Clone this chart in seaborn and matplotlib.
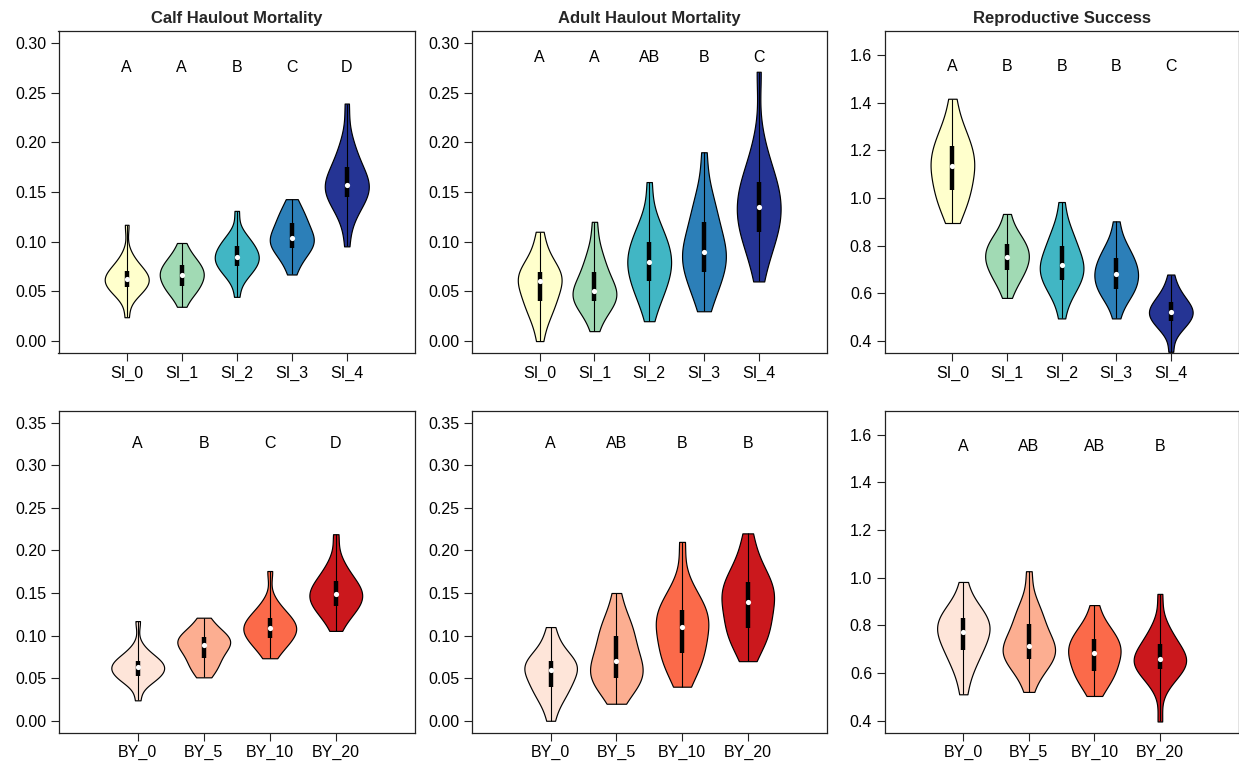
import numpy as np
import pandas as pd
import matplotlib
matplotlib.use("Agg")
import matplotlib.pyplot as plt
from matplotlib.ticker import FormatStrFormatter
import seaborn as sns

# ---------------- data (21 quantiles per group, 0%,5%,...,100%) ----------------
si_labels = ["SI_0", "SI_1", "SI_2", "SI_3", "SI_4"]
by_labels = ["BY_0", "BY_5", "BY_10", "BY_20"]
si_colors = ["#ffffcc", "#a1dab4", "#41b6c4", "#2c7fb8", "#253494"]
by_colors = ["#fee5d9", "#fcae91", "#fb6a4a", "#cb181d"]

calf_si = [
    [0.024, 0.044, 0.047, 0.050, 0.052, 0.0545, 0.056, 0.058, 0.0595, 0.061, 0.0625,
     0.064, 0.0655, 0.067, 0.069, 0.071, 0.0735, 0.0765, 0.081, 0.088, 0.117],
    [0.0345, 0.044, 0.048, 0.051, 0.053, 0.055, 0.058, 0.061, 0.063, 0.065, 0.0666,
     0.068, 0.070, 0.072, 0.0745, 0.077, 0.079, 0.082, 0.085, 0.090, 0.0987],
    [0.0445, 0.062, 0.066, 0.069, 0.072, 0.0753, 0.077, 0.079, 0.081, 0.083, 0.0846,
     0.086, 0.088, 0.090, 0.093, 0.096, 0.098, 0.101, 0.104, 0.109, 0.131],
    [0.067, 0.078, 0.083, 0.087, 0.091, 0.0936, 0.096, 0.098, 0.100, 0.102, 0.104,
     0.106, 0.109, 0.112, 0.1155, 0.119, 0.122, 0.126, 0.130, 0.135, 0.1428],
    [0.0953, 0.122, 0.130, 0.136, 0.141, 0.145, 0.148, 0.151, 0.153, 0.155, 0.157,
     0.159, 0.162, 0.165, 0.170, 0.1756, 0.180, 0.186, 0.194, 0.205, 0.239],
]
adult_si = [
    [0.000, 0.018, 0.025, 0.031, 0.036, 0.040, 0.043, 0.047, 0.052, 0.056, 0.060,
     0.062, 0.064, 0.066, 0.068, 0.070, 0.074, 0.079, 0.085, 0.095, 0.110],
    [0.010, 0.024, 0.030, 0.034, 0.037, 0.040, 0.042, 0.045, 0.047, 0.049, 0.050,
     0.053, 0.056, 0.060, 0.065, 0.070, 0.075, 0.080, 0.087, 0.098, 0.120],
    [0.020, 0.037, 0.044, 0.050, 0.055, 0.060, 0.064, 0.069, 0.073, 0.077, 0.080,
     0.083, 0.087, 0.091, 0.095, 0.100, 0.105, 0.110, 0.117, 0.128, 0.160],
    [0.030, 0.045, 0.052, 0.059, 0.065, 0.070, 0.075, 0.080, 0.084, 0.087, 0.090,
     0.094, 0.099, 0.104, 0.111, 0.120, 0.126, 0.133, 0.142, 0.155, 0.190],
    [0.060, 0.080, 0.092, 0.101, 0.106, 0.110, 0.115, 0.121, 0.127, 0.131, 0.135,
     0.140, 0.145, 0.150, 0.155, 0.160, 0.166, 0.174, 0.185, 0.203, 0.271],
]
repro_si = [
    [0.895, 0.945, 0.970, 0.995, 1.015, 1.035, 1.055, 1.080, 1.100, 1.118, 1.133,
     1.148, 1.163, 1.180, 1.198, 1.219, 1.240, 1.262, 1.290, 1.330, 1.416],
    [0.581, 0.628, 0.648, 0.666, 0.682, 0.696, 0.708, 0.720, 0.732, 0.742, 0.752,
     0.762, 0.772, 0.783, 0.795, 0.807, 0.818, 0.832, 0.850, 0.875, 0.933],
    [0.495, 0.580, 0.605, 0.625, 0.640, 0.654, 0.670, 0.685, 0.697, 0.708, 0.717,
     0.728, 0.740, 0.755, 0.775, 0.798, 0.815, 0.835, 0.860, 0.895, 0.983],
    [0.495, 0.560, 0.583, 0.600, 0.610, 0.619, 0.635, 0.650, 0.664, 0.674, 0.683,
     0.693, 0.705, 0.718, 0.732, 0.747, 0.762, 0.778, 0.798, 0.830, 0.902],
    [0.355, 0.430, 0.450, 0.466, 0.476, 0.484, 0.493, 0.503, 0.511, 0.517, 0.523,
     0.530, 0.537, 0.546, 0.555, 0.565, 0.577, 0.591, 0.608, 0.632, 0.679],
]
calf_by = [
    [0.024, 0.0435, 0.047, 0.049, 0.051, 0.053, 0.055, 0.057, 0.059, 0.061, 0.063,
     0.0645, 0.066, 0.0675, 0.069, 0.0707, 0.073, 0.076, 0.080, 0.087, 0.117],
    [0.051, 0.058, 0.062, 0.066, 0.070, 0.0742, 0.078, 0.081, 0.084, 0.087, 0.089,
     0.091, 0.093, 0.095, 0.097, 0.0988, 0.101, 0.104, 0.108, 0.113, 0.121],
    [0.0734, 0.082, 0.087, 0.091, 0.094, 0.0969, 0.099, 0.102, 0.105, 0.107, 0.109,
     0.111, 0.113, 0.1155, 0.118, 0.1207, 0.124, 0.128, 0.133, 0.141, 0.1758],
    [0.1055, 0.118, 0.124, 0.128, 0.132, 0.135, 0.138, 0.141, 0.144, 0.1465, 0.149,
     0.151, 0.154, 0.157, 0.160, 0.164, 0.168, 0.173, 0.180, 0.190, 0.219],
]
adult_by = [
    [0.000, 0.018, 0.025, 0.031, 0.036, 0.040, 0.043, 0.047, 0.052, 0.056, 0.060,
     0.062, 0.064, 0.066, 0.068, 0.070, 0.074, 0.079, 0.085, 0.095, 0.110],
    [0.020, 0.033, 0.039, 0.044, 0.047, 0.050, 0.054, 0.058, 0.062, 0.066, 0.070,
     0.075, 0.080, 0.086, 0.093, 0.100, 0.105, 0.111, 0.118, 0.128, 0.150],
    [0.040, 0.054, 0.062, 0.069, 0.074, 0.079, 0.085, 0.091, 0.097, 0.104, 0.110,
     0.114, 0.118, 0.122, 0.126, 0.130, 0.136, 0.142, 0.150, 0.163, 0.210],
    [0.070, 0.085, 0.093, 0.099, 0.104, 0.109, 0.115, 0.122, 0.129, 0.135, 0.140,
     0.145, 0.149, 0.153, 0.158, 0.1625, 0.168, 0.175, 0.184, 0.198, 0.220],
]
repro_by = [
    [0.511, 0.590, 0.625, 0.655, 0.677, 0.695, 0.712, 0.730, 0.748, 0.760, 0.772,
     0.783, 0.795, 0.807, 0.820, 0.832, 0.845, 0.860, 0.878, 0.905, 0.982],
    [0.521, 0.590, 0.615, 0.635, 0.650, 0.660, 0.672, 0.685, 0.697, 0.706, 0.713,
     0.722, 0.735, 0.752, 0.780, 0.806, 0.825, 0.845, 0.870, 0.905, 1.027],
    [0.504, 0.545, 0.565, 0.585, 0.598, 0.609, 0.625, 0.645, 0.662, 0.673, 0.683,
     0.693, 0.705, 0.718, 0.731, 0.744, 0.758, 0.773, 0.792, 0.820, 0.885],
    [0.397, 0.540, 0.568, 0.590, 0.605, 0.616, 0.627, 0.637, 0.645, 0.652, 0.658,
     0.665, 0.673, 0.683, 0.700, 0.720, 0.735, 0.752, 0.775, 0.810, 0.932],
]

letters_calf_si = ["A", "A", "B", "C", "D"]
letters_adult_si = ["A", "A", "AB", "B", "C"]
letters_repro_si = ["A", "B", "B", "B", "C"]
letters_calf_by = ["A", "B", "C", "D"]
letters_adult_by = ["A", "AB", "B", "B"]
letters_repro_by = ["A", "AB", "AB", "B"]

titles = ["Calf Haulout Mortality", "Adult Haulout Mortality", "Reproductive Success"]

# ---------------- style ----------------
sns.set_theme(style="ticks")
plt.rcParams["font.family"] = ["Liberation Sans", "DejaVu Sans"]

fig = plt.figure(figsize=(12.39, 7.64), dpi=100)

col_left = [58.5 / 1239, 471.8 / 1239, 884.7 / 1239]
col_width = [356.5 / 1239, 354.8 / 1239, 353.8 / 1239]
row_bottom = [411 / 764, 31.3 / 764]
row_height = 322 / 764

panels = [
    (0, 0, calf_si, si_labels, si_colors, letters_calf_si, 0.275, (-0.012, 0.312), np.arange(0, 0.301, 0.05), "%.2f"),
    (0, 1, adult_si, si_labels, si_colors, letters_adult_si, 0.285, (-0.012, 0.312), np.arange(0, 0.301, 0.05), "%.2f"),
    (0, 2, repro_si, si_labels, si_colors, letters_repro_si, 1.55, (0.35, 1.70), np.arange(0.4, 1.61, 0.2), "%.1f"),
    (1, 0, calf_by, by_labels, by_colors, letters_calf_by, 0.325, (-0.014, 0.364), np.arange(0, 0.351, 0.05), "%.2f"),
    (1, 1, adult_by, by_labels, by_colors, letters_adult_by, 0.325, (-0.014, 0.364), np.arange(0, 0.351, 0.05), "%.2f"),
    (1, 2, repro_by, by_labels, by_colors, letters_repro_by, 1.55, (0.35, 1.70), np.arange(0.4, 1.61, 0.2), "%.1f"),
]

for row, col, groups, labels, colors, letters, letter_y, ylim, yticks, fmt in panels:
    ax = fig.add_axes([col_left[col], row_bottom[row], col_width[col], row_height])
    df = pd.DataFrame({
        "group": np.repeat(labels, [len(g) for g in groups]),
        "value": np.concatenate(groups),
    })
    sns.violinplot(data=df, x="group", y="value", hue="group", order=labels,
                   hue_order=labels, palette=colors, saturation=1, cut=0,
                   density_norm="width", width=0.8, inner=None, linewidth=0.85,
                   linecolor="black", bw_adjust=0.95, legend=False, ax=ax)
    for i, g in enumerate(groups):
        g = np.asarray(g)
        q1, med, q3 = np.percentile(g, [25, 50, 75])
        ax.vlines(i, g.min(), g.max(), color="black", lw=0.8, zorder=3)
        ax.vlines(i, q1, q3, color="black", lw=3.2, zorder=4, capstyle="butt")
        ax.scatter([i], [med], s=14, color="white", zorder=5, linewidths=0)
        ax.text(i, letter_y, letters[i], ha="center", va="center", fontsize=11.5,
                color="black")
    n = len(labels)
    pad = 0.04 * (n + 1)
    ax.set_xlim(-1 - pad, n + pad)
    ax.set_ylim(*ylim)
    ax.set_yticks(yticks)
    ax.yaxis.set_major_formatter(FormatStrFormatter(fmt))
    ax.set_xticks(range(n))
    ax.set_xticklabels(labels)
    ax.set_xlabel("")
    ax.set_ylabel("")
    ax.tick_params(axis="both", direction="out", length=6, width=0.8,
                   labelsize=11.5, color="#222222", labelcolor="black", pad=3)
    for sp in ax.spines.values():
        sp.set_visible(True)
        sp.set_linewidth(0.9)
        sp.set_color("#222222")
    if row == 0:
        ax.set_title(titles[col], fontsize=12, fontweight="bold", pad=6)

fig.savefig("out.png", dpi=100)
